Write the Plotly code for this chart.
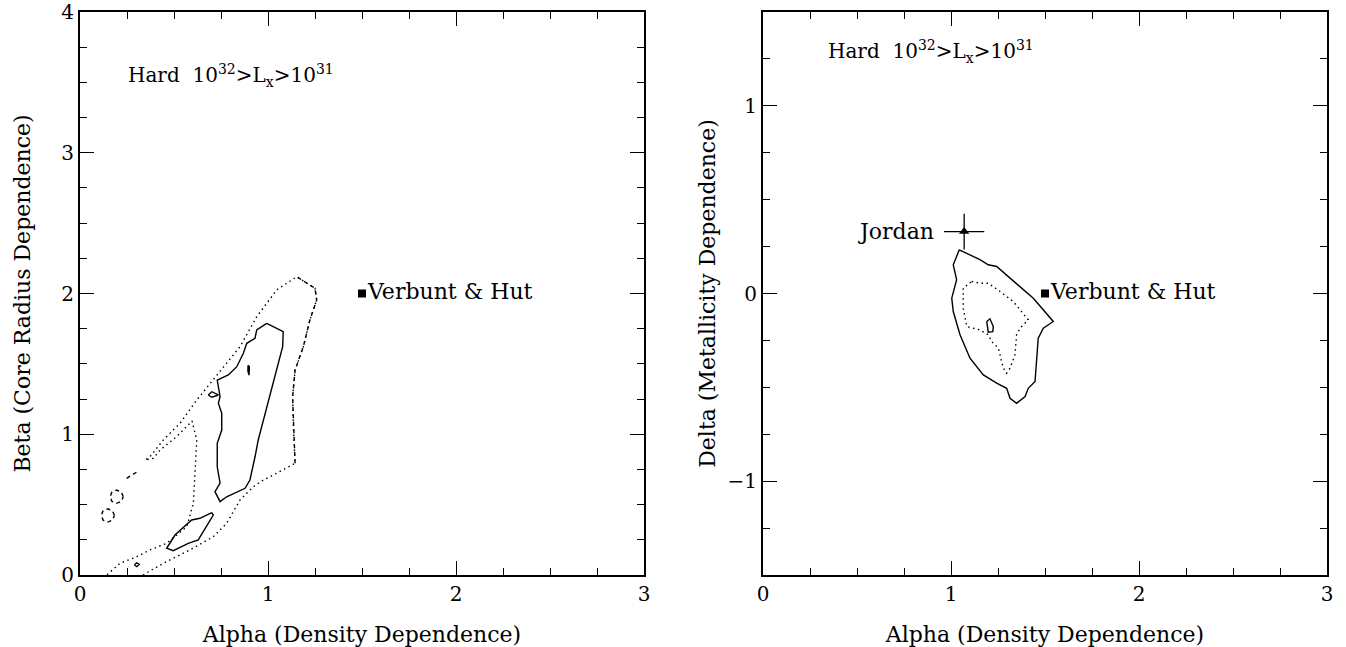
import plotly.graph_objects as go

# ---------------- Left panel: Alpha vs Beta ----------------
# outer confidence contour (open at the beta = 0 edge)
outer_a = [0.335, 0.443, 0.585, 0.709, 0.780, 0.851, 0.922, 0.975, 1.046, 1.144,
           1.135, 1.131, 1.144, 1.188, 1.223, 1.259, 1.250, 1.153,
           1.046, 0.940, 0.851, 0.709, 0.621, 0.532, 0.443, 0.372, 0.346,
           0.390, 0.426, 0.514, 0.585, 0.596, 0.621, 0.612, 0.603, 0.568,
           0.461, 0.372, 0.302, 0.213, 0.142]
outer_b = [0.000, 0.083, 0.178, 0.272, 0.367, 0.533, 0.627, 0.675, 0.723, 0.794,
           1.054, 1.267, 1.456, 1.622, 1.812, 1.954, 2.037, 2.119,
           2.025, 1.835, 1.622, 1.385, 1.243, 1.078, 0.959, 0.840, 0.817,
           0.829, 0.888, 0.983, 1.078, 1.094, 0.959, 0.746, 0.509, 0.343,
           0.225, 0.178, 0.130, 0.083, 0.000]
# stretch of the outer contour drawn with longer dashes
outer_dash_a = [1.144, 1.135, 1.131, 1.144, 1.188, 1.223, 1.259, 1.250, 1.153]
outer_dash_b = [0.794, 1.054, 1.267, 1.456, 1.622, 1.812, 1.954, 2.037, 2.119]

# small outer-level islands
isl1_a = [0.230, 0.220, 0.195, 0.170, 0.160, 0.170, 0.195, 0.220, 0.230]
isl1_b = [0.556, 0.589, 0.603, 0.589, 0.556, 0.523, 0.509, 0.523, 0.556]
isl2_a = [0.183, 0.173, 0.148, 0.123, 0.113, 0.123, 0.148, 0.173, 0.183]
isl2_b = [0.423, 0.456, 0.470, 0.456, 0.423, 0.390, 0.376, 0.390, 0.423]
isl3_a = [0.248, 0.305]
isl3_b = [0.687, 0.734]

# inner (solid) contours
main_a = [0.993, 1.081, 1.078, 1.046, 1.011, 0.975, 0.948, 0.931, 0.904, 0.878,
          0.780, 0.745, 0.718, 0.745, 0.730, 0.730, 0.754, 0.754, 0.736, 0.745,
          0.730, 0.789, 0.834, 0.869, 0.887, 0.931, 0.940, 0.993]
main_b = [1.788, 1.729, 1.622, 1.456, 1.267, 1.101, 0.959, 0.840, 0.675, 0.616,
          0.556, 0.521, 0.592, 0.652, 0.769, 0.936, 1.030, 1.149, 1.220, 1.267,
          1.385, 1.421, 1.480, 1.575, 1.646, 1.682, 1.741, 1.788]
low_a = [0.701, 0.709, 0.629, 0.576, 0.496, 0.461, 0.505, 0.594, 0.638, 0.701]
low_b = [0.443, 0.426, 0.249, 0.225, 0.173, 0.190, 0.284, 0.391, 0.403, 0.443]
dia_a = [0.682, 0.701, 0.736, 0.701, 0.682]
dia_b = [1.279, 1.302, 1.279, 1.263, 1.279]
sliver_a = [0.894, 0.901, 0.899, 0.893, 0.894]
sliver_b = [1.490, 1.480, 1.420, 1.450, 1.490]
tiny_a = [0.289, 0.302, 0.315, 0.302, 0.289]
tiny_b = [0.073, 0.087, 0.075, 0.059, 0.073]

# ---------------- Right panel: Alpha vs Delta ----------------
r_outer_a = [1.044, 1.154, 1.198, 1.243, 1.314, 1.438, 1.544, 1.491, 1.464, 1.456,
             1.447, 1.411, 1.394, 1.349, 1.314, 1.296, 1.243, 1.172, 1.101, 1.048,
             1.012, 1.004, 1.030, 1.012, 1.044]
r_outer_d = [0.233, 0.180, 0.153, 0.144, 0.082, -0.025, -0.149, -0.185, -0.238, -0.345,
             -0.469, -0.505, -0.549, -0.585, -0.558, -0.505, -0.478, -0.434, -0.345, -0.220,
             -0.096, -0.025, 0.073, 0.153, 0.233]
r_mid_a = [1.110, 1.154, 1.198, 1.261, 1.331, 1.411, 1.367, 1.349, 1.340, 1.314,
           1.296, 1.278, 1.252, 1.216, 1.198, 1.154, 1.084, 1.065, 1.065, 1.110]
r_mid_d = [0.064, 0.055, 0.055, 0.011, -0.043, -0.140, -0.185, -0.220, -0.327, -0.398,
           -0.425, -0.398, -0.292, -0.256, -0.220, -0.194, -0.176, -0.078, 0.028, 0.064]
r_in_a = [1.190, 1.207, 1.225, 1.222, 1.198, 1.190]
r_in_d = [-0.149, -0.135, -0.176, -0.203, -0.206, -0.149]

# reference points
vh_alpha, vh_beta, vh_delta = 1.5, 2.0, 0.0
jordan_alpha, jordan_delta = 1.07, 0.33
jordan_alpha_err, jordan_delta_err = 0.107, 0.095

FONT = "DejaVu Serif"
BLACK = "black"
DOT = "1.5px,3.5px"
DASH = "4px,3.5px"
LABEL_SIZE = 22
TITLE_SIZE = 22
TICK_SIZE = 20

fig = go.Figure()


def line(x, y, dash, xa="x", ya="y", width=1.4):
    fig.add_trace(go.Scatter(x=x, y=y, mode="lines", xaxis=xa, yaxis=ya,
                             line=dict(color=BLACK, width=width, dash=dash),
                             hoverinfo="skip", showlegend=False))


# left panel contours
line(outer_a, outer_b, DOT)
line(outer_dash_a, outer_dash_b, DASH)
line(isl1_a, isl1_b, DASH)
line(isl2_a, isl2_b, DASH)
line(isl3_a, isl3_b, DASH)
for xs, ys in [(main_a, main_b), (low_a, low_b), (dia_a, dia_b),
               (sliver_a, sliver_b), (tiny_a, tiny_b)]:
    line(xs, ys, "solid")

fig.add_trace(go.Scatter(x=[vh_alpha], y=[vh_beta], mode="markers+text",
                         marker=dict(symbol="square", size=8, color=BLACK),
                         text=["Verbunt & Hut"], textposition="middle right",
                         textfont=dict(family=FONT, size=LABEL_SIZE, color=BLACK),
                         showlegend=False, hoverinfo="skip"))

# right panel contours
line(r_outer_a, r_outer_d, "solid", "x2", "y2")
line(r_mid_a, r_mid_d, DOT, "x2", "y2")
line(r_in_a, r_in_d, "solid", "x2", "y2")

fig.add_trace(go.Scatter(x=[vh_alpha], y=[vh_delta], mode="markers+text",
                         xaxis="x2", yaxis="y2",
                         marker=dict(symbol="square", size=8, color=BLACK),
                         text=["Verbunt & Hut"], textposition="middle right",
                         textfont=dict(family=FONT, size=LABEL_SIZE, color=BLACK),
                         showlegend=False, hoverinfo="skip"))
fig.add_trace(go.Scatter(x=[jordan_alpha], y=[jordan_delta], mode="markers",
                         xaxis="x2", yaxis="y2",
                         marker=dict(symbol="triangle-up", size=9, color=BLACK),
                         error_x=dict(type="constant", value=jordan_alpha_err,
                                      color=BLACK, thickness=1.3, width=0),
                         error_y=dict(type="constant", value=jordan_delta_err,
                                      color=BLACK, thickness=1.3, width=0),
                         showlegend=False, hoverinfo="skip"))

HARD = "Hard  10<sup>32</sup>>L<sub>x</sub>>10<sup>31</sup>"
annotations = [
    dict(x=0.242, y=3.55, xref="x", yref="y", xanchor="left", yanchor="middle",
         text=HARD, showarrow=False, font=dict(family=FONT, size=20, color=BLACK)),
    dict(x=0.337, y=1.29, xref="x2", yref="y2", xanchor="left", yanchor="middle",
         text=HARD, showarrow=False, font=dict(family=FONT, size=20, color=BLACK)),
    dict(x=jordan_alpha - jordan_alpha_err, y=jordan_delta, xref="x2", yref="y2",
         xanchor="right", yanchor="middle", xshift=-8, text="Jordan",
         showarrow=False, font=dict(family=FONT, size=LABEL_SIZE, color=BLACK)),
]


def axis(rng, dtick, minor, domain, title, anchor, standoff):
    return dict(range=rng, dtick=dtick, tick0=0, domain=domain, anchor=anchor,
                automargin=False,
                showgrid=False, zeroline=False, showline=True, linecolor=BLACK,
                linewidth=1.8, mirror="ticks", ticks="inside", ticklen=14,
                tickwidth=1.3, tickcolor=BLACK,
                minor=dict(dtick=minor, tick0=0, ticks="inside", ticklen=7,
                           tickwidth=1.3, tickcolor=BLACK, showgrid=False),
                tickfont=dict(family=FONT, size=TICK_SIZE, color=BLACK),
                title=dict(text=title, standoff=standoff,
                           font=dict(family=FONT, size=TITLE_SIZE, color=BLACK)),
                fixedrange=True)


W, H = 1346, 647
xd1 = [80 / W, 644 / W]
xd2 = [763 / W, 1327 / W]
yd = [(H - 575) / H, (H - 12) / H]

fig.update_layout(
    width=W, height=H, margin=dict(l=0, r=0, t=0, b=0, autoexpand=False),
    paper_bgcolor="white", plot_bgcolor="white",
    xaxis=axis([0, 3], 1, 0.25, xd1, "Alpha (Density Dependence)", "y", 24),
    yaxis=axis([0, 4], 1, 0.25, yd, "Beta (Core Radius Dependence)", "x", 25),
    xaxis2=axis([0, 3], 1, 0.25, xd2, "Alpha (Density Dependence)", "y2", 24),
    yaxis2=axis([-1.5, 1.5], 1, 0.25, yd, "Delta (Metallicity Dependence)", "x2", 6),
    annotations=annotations,
    showlegend=False,
)

fig.write_html("out.html")
